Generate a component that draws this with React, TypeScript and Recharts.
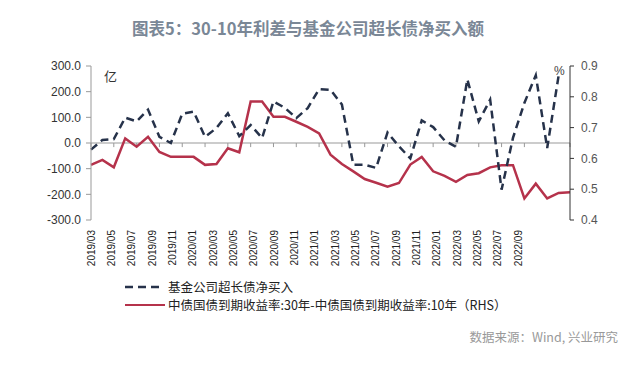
import { LineChart, Line, XAxis, YAxis, ReferenceLine } from 'recharts'

const months = [
  '2019/03', '2019/04', '2019/05', '2019/06', '2019/07', '2019/08', '2019/09', '2019/10', '2019/11', '2019/12',
  '2020/01', '2020/02', '2020/03', '2020/04', '2020/05', '2020/06', '2020/07', '2020/08', '2020/09', '2020/10',
  '2020/11', '2020/12', '2021/01', '2021/02', '2021/03', '2021/04', '2021/05', '2021/06', '2021/07', '2021/08',
  '2021/09', '2021/10', '2021/11', '2021/12', '2022/01', '2022/02', '2022/03', '2022/04', '2022/05', '2022/06',
  '2022/07', '2022/08', '2022/09',
]

// 基金公司超长债净买入 (亿)
const fundNetBuy = [
  -26, 12, 15, 99, 84, 130, 24, 0, 114, 122,
  24, 58, 116, 27, 70, 19, 162, 137, 97, 136,
  210, 207, 150, -85, -85, -97, 41, -13, -60, 88,
  62, 10, -15, 248, 84, 169, -182, 20, 156, 264,
  -20, 262, null,
]

// 30Y-10Y 国债利差 (%)
const spread = [
  0.579, 0.595, 0.571, 0.665, 0.638, 0.670, 0.621, 0.605, 0.605, 0.605,
  0.579, 0.582, 0.633, 0.620, 0.785, 0.785, 0.735, 0.735, 0.719, 0.702,
  0.681, 0.612, 0.582, 0.558, 0.533, 0.521, 0.508, 0.520, 0.580, 0.605,
  0.558, 0.543, 0.524, 0.546, 0.552, 0.571, 0.578, 0.578, 0.470, 0.518,
  0.470, 0.488, 0.490,
]

const leftTicks = [-300, -200, -100, 0, 100, 200, 300]
const rightTicks = [0.4, 0.5, 0.6, 0.7, 0.8, 0.9]

const data = months.map((month, i) => ({ month, fund: fundNetBuy[i], spread: spread[i] }))
const tickMonths = months.filter((_, i) => i % 2 === 0)

const sans = '"Liberation Sans", Arial, sans-serif'
const cjk = '"Noto Sans CJK SC", "Noto Sans", sans-serif'

function MonthTick({ x, y, payload }: any) {
  return (
    <text
      x={x}
      y={y}
      transform={`rotate(-90 ${x} ${y})`}
      textAnchor="end"
      dy="0.35em"
      fontSize={10}
      fill="#222"
      fontFamily={sans}
    >
      {payload.value}
    </text>
  )
}

export default function App() {
  return (
    <div style={{ position: 'absolute', left: 0, top: 0, width: 640, height: 369, background: '#fff' }}>
      <div
        style={{
          position: 'absolute', left: 0, width: 616, top: 17, textAlign: 'center',
          fontFamily: cjk, fontSize: 16.5, fontWeight: 700, color: '#7a8796', lineHeight: '22px',
        }}
      >
        图表5：30-10年利差与基金公司超长债净买入额
      </div>

      <LineChart width={640} height={369} data={data} margin={{ top: 66, right: 0, bottom: 89, left: 0 }}>
        <XAxis xAxisId="main" dataKey="month" hide />
        <XAxis
          xAxisId="labels"
          dataKey="month"
          interval={1}
          axisLine={false}
          tickLine={false}
          tickSize={0}
          tickMargin={10}
          height={60}
          padding={{ left: 0, right: 52 }}
          tick={MonthTick}
        />
        <YAxis
          yAxisId="left"
          domain={[-300, 300]}
          ticks={leftTicks}
          allowDataOverflow
          width={91}
          tickSize={5}
          tickMargin={5}
          axisLine={{ stroke: '#999' }}
          tickLine={{ stroke: '#999' }}
          tickFormatter={(v: number) => v.toFixed(1)}
          tick={{ fontSize: 12, fill: '#333', fontFamily: sans }}
        />
        <YAxis
          yAxisId="right"
          orientation="right"
          domain={[0.4, 0.9]}
          ticks={rightTicks}
          width={70}
          tickSize={4}
          tickMargin={7}
          axisLine={{ stroke: '#333' }}
          tickLine={{ stroke: '#333' }}
          tickFormatter={(v: number) => v.toFixed(1)}
          tick={{ fontSize: 12, fill: '#555', fontFamily: sans, textAnchor: 'start' }}
        />
        <ReferenceLine xAxisId="main" yAxisId="left" y={0} stroke="#999" />
        {tickMonths.map((m) => (
          <ReferenceLine
            key={m}
            xAxisId="main"
            yAxisId="left"
            segment={[{ x: m, y: 0 }, { x: m, y: -16 }]}
            stroke="#999"
          />
        ))}
        <Line
          xAxisId="main"
          yAxisId="right"
          dataKey="spread"
          stroke="#b5324b"
          strokeWidth={2.5}
          dot={false}
          isAnimationActive={false}
        />
        <Line
          xAxisId="main"
          yAxisId="left"
          dataKey="fund"
          stroke="#26324a"
          strokeWidth={2.5}
          strokeDasharray="8 5"
          dot={false}
          isAnimationActive={false}
        />
      </LineChart>

      <div style={{ position: 'absolute', left: 104, top: 66, fontFamily: cjk, fontSize: 13, color: '#333' }}>亿</div>
      <div style={{ position: 'absolute', left: 554, top: 64, fontFamily: sans, fontSize: 12, color: '#444' }}>%</div>

      <div style={{ position: 'absolute', left: 124, top: 278, fontFamily: cjk, fontSize: 12.5, color: '#222', lineHeight: '18px' }}>
        <div style={{ display: 'flex', alignItems: 'center' }}>
          <svg width={42} height={6}>
            <line x1={1} y1={3} x2={40} y2={3} stroke="#26324a" strokeWidth={2.5} strokeDasharray="8 5" />
          </svg>
          <span style={{ marginLeft: 2 }}>基金公司超长债净买入</span>
        </div>
        <div style={{ display: 'flex', alignItems: 'center' }}>
          <svg width={42} height={6}>
            <line x1={1} y1={3} x2={41} y2={3} stroke="#b5324b" strokeWidth={2} />
          </svg>
          <span style={{ marginLeft: 2 }}>中债国债到期收益率:30年-中债国债到期收益率:10年（RHS）</span>
        </div>
      </div>

      <div style={{ position: 'absolute', right: 22, top: 327, fontFamily: cjk, fontSize: 12.5, color: '#999' }}>
        数据来源：Wind, 兴业研究
      </div>
    </div>
  )
}
